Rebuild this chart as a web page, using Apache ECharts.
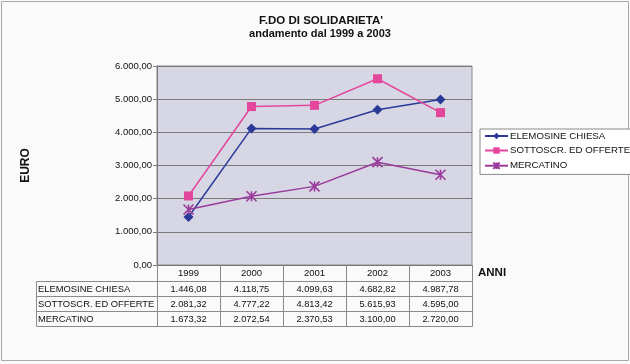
<!DOCTYPE html>
<html><head><meta charset="utf-8">
<script src="https://cdn.jsdelivr.net/npm/echarts@6/dist/echarts.min.js"></script>
<style>html,body{margin:0;padding:0;background:#fafafa}#c{width:630px;height:364px}</style>
</head><body><div id="c"></div>
<script>
var years = ['1999','2000','2001','2002','2003'];
var seriesNames = ['ELEMOSINE CHIESA','SOTTOSCR. ED OFFERTE','MERCATINO'];
var elemosine = [1446.08, 4118.75, 4099.63, 4682.82, 4987.78];
var sottoscr = [2081.32, 4777.22, 4813.42, 5615.93, 4595.00];
var mercatino = [1673.32, 2072.54, 2370.53, 3100.00, 2720.00];
var allValues = [elemosine, sottoscr, mercatino];
var colors = ['#2b3a98', '#e4469c', '#9a3b9c'];
var FONT = 'Arial, "Liberation Sans", sans-serif';

function fmt(n){
  var s = n.toFixed(2).split('.');
  var i = s[0].replace(/\B(?=(\d{3})+(?!\d))/g, '.');
  return i + ',' + s[1];
}
var starPath = 'path://M0,0L10,10M10,0L0,10M5,0L5,10M0,5L0,5';

var chart = echarts.init(document.getElementById('c'));
var option = {
  backgroundColor: '#fafafa',
  animation: false,
  title: [
    {text: "F.DO DI SOLIDARIETA'", left: 316, top: 10, textAlign: 'center',
      textStyle: {fontFamily: FONT, fontSize: 11.5, fontWeight: 'bold', color: '#111'}},
    {text: "andamento dal 1999 a 2003", left: 315, top: 23, textAlign: 'center',
      textStyle: {fontFamily: FONT, fontSize: 11, fontWeight: 'bold', color: '#111'}}
  ],
  legend: {
    orient: 'vertical', left: 480, top: 129,
    itemWidth: 23, itemHeight: 8, itemGap: 4.5,
    padding: [2, 4, 3, 4],
    borderColor: '#8a8a8a', borderWidth: 1, backgroundColor: '#ffffff',
    textStyle: {fontFamily: FONT, fontSize: 9.7, color: '#111', padding: [0,0,0,-3]},
    data: seriesNames
  },
  grid: {left: 157, right: 158, top: 66, bottom: 99, show: true,
    backgroundColor: '#d6d6e4', borderColor: '#8a8a8a', borderWidth: 1},
  xAxis: {
    type: 'category', data: years, boundaryGap: true,
    name: 'ANNI', nameLocation: 'end', nameGap: 6,
    nameTextStyle: {fontFamily: FONT, fontSize: 11.5, fontWeight: 'bold', color: '#111', verticalAlign: 'top', padding: [2,0,0,0]},
    axisLine: {lineStyle: {color: '#777'}},
    axisTick: {show: true, interval: 0, length: 16, lineStyle: {color: '#888'}},
    axisLabel: {fontFamily: FONT, fontSize: 9.5, color: '#111', margin: 3}
  },
  yAxis: {
    type: 'value', min: 0, max: 6000, interval: 1000,
    name: 'EURO', nameLocation: 'middle', nameRotate: 90, nameGap: 125,
    nameTextStyle: {fontFamily: FONT, fontSize: 12, fontWeight: 'bold', color: '#111'},
    axisLine: {show: true, lineStyle: {color: '#777'}},
    axisTick: {show: true, length: 4, lineStyle: {color: '#777'}},
    axisLabel: {fontFamily: FONT, fontSize: 9.5, color: '#111', margin: 5, formatter: function(v){return fmt(v);}},
    splitLine: {lineStyle: {color: '#7a7a7a', width: 1}}
  },
  series: [
    {name: seriesNames[0], type: 'line', data: elemosine, symbol: 'diamond', symbolSize: 10,
      lineStyle: {color: colors[0], width: 1.5}, itemStyle: {color: colors[0]}},
    {name: seriesNames[1], type: 'line', data: sottoscr, symbol: 'rect', symbolSize: 9,
      lineStyle: {color: colors[1], width: 1.5}, itemStyle: {color: colors[1]}},
    {name: seriesNames[2], type: 'line', data: mercatino, symbol: starPath, symbolSize: 10,
      lineStyle: {color: colors[2], width: 1.5}, itemStyle: {color: 'none', borderColor: colors[2], borderWidth: 1.6}}
  ]
};
chart.setOption(option);

// data table below the axis, positioned from the axis scale
var c0 = chart.convertToPixel({xAxisIndex: 0}, years[0]);
var c1 = chart.convertToPixel({xAxisIndex: 0}, years[1]);
var colW = c1 - c0;
var axisY = chart.convertToPixel({yAxisIndex: 0}, 0);
var plotLeft = c0 - colW / 2;
var plotRight = chart.convertToPixel({xAxisIndex: 0}, years[years.length-1]) + colW / 2;
var tableLeft = 36;
var headerH = 16, rowH = 15;
var tTop = axisY + headerH;
var els = [];
var lc = '#8a8a8a';
function line(x1,y1,x2,y2){
  els.push({type:'line', shape:{x1:Math.round(x1)+0.5,y1:Math.round(y1)+0.5,x2:Math.round(x2)+0.5,y2:Math.round(y2)+0.5}, style:{stroke:lc, lineWidth:1}, silent:true});
}
for (var r = 0; r <= allValues.length; r++) line(tableLeft, tTop + r*rowH, plotRight, tTop + r*rowH);
line(tableLeft, tTop, tableLeft, tTop + allValues.length*rowH);
for (var k = 0; k <= years.length; k++) {
  var x = plotLeft + k*colW;
  line(x, tTop, x, tTop + allValues.length*rowH);
}
for (var r = 0; r < allValues.length; r++) {
  var cy = tTop + r*rowH + rowH/2 + 0.5;
  els.push({type:'text', x: tableLeft + 2, y: cy, style:{text: seriesNames[r], fill:'#111', font:'9.4px ' + FONT, textAlign:'left', textVerticalAlign:'middle'}, silent:true});
  for (var k = 0; k < years.length; k++) {
    var cx = chart.convertToPixel({xAxisIndex: 0}, years[k]);
    els.push({type:'text', x: cx, y: cy, style:{text: fmt(allValues[r][k]), fill:'#111', font:'9.3px ' + FONT, textAlign:'center', textVerticalAlign:'middle'}, silent:true});
  }
}
// outer frame of the picture
els.push({type:'rect', shape:{x:1.5,y:1.5,width:627,height:359}, style:{fill:'none', stroke:'#a8a8a8', lineWidth:1}, silent:true, z:-1});
chart.setOption({graphic: els});
</script></body></html>
